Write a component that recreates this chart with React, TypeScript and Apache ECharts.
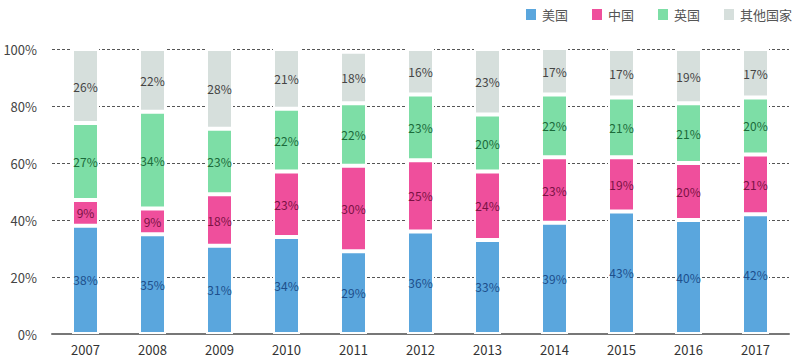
import React, { useEffect, useRef } from "react";
import * as echarts from "echarts";

const years = ["2007", "2008", "2009", "2010", "2011", "2012", "2013", "2014", "2015", "2016", "2017"];
const seriesNames = ["美国", "中国", "英国", "其他国家"];
const usa = [38, 35, 31, 34, 29, 36, 33, 39, 43, 40, 42];
const china = [9, 9, 18, 23, 30, 25, 24, 23, 19, 20, 21];
const uk = [27, 34, 23, 22, 22, 23, 20, 22, 21, 21, 20];
const others = [26, 22, 28, 21, 18, 16, 23, 17, 17, 19, 17];
const yTicks = ["0%", "20%", "40%", "60%", "80%", "100%"];

const colors = ["#5aa6dd", "#ef4f9c", "#7ddea6", "#d6dfdc"];
const labelColors = ["#1d4f8c", "#7a1244", "#1b6a3a", "#444444"];

export default function App() {
  const ref = useRef<HTMLDivElement>(null);
  useEffect(() => {
    document.body.style.margin = "0";
    if (!ref.current) return;
    const chart = echarts.init(ref.current, undefined, { renderer: "svg" });
    const datasets = [usa, china, uk, others];
    chart.setOption({
      animation: false,
      textStyle: { fontFamily: "'Noto Sans CJK SC', 'DejaVu Sans', sans-serif" },
      legend: {
        top: 2,
        right: 3,
        itemWidth: 12,
        itemHeight: 13,
        itemGap: 22,
        icon: "rect",
        textStyle: { color: "#555", fontSize: 13 },
        data: seriesNames,
      },
      grid: { left: 52, right: 11, top: 49, bottom: 26 },
      xAxis: {
        type: "category",
        data: years,
        axisLine: { lineStyle: { color: "#777", width: 2 } },
        axisTick: { show: false },
        axisLabel: { color: "#333", fontSize: 13, margin: 9 },
      },
      yAxis: {
        type: "value",
        min: 0,
        max: 100,
        interval: 20,
        axisLine: { show: false },
        axisTick: { show: false },
        axisLabel: {
          color: "#444",
          fontSize: 13,
          margin: 15,
          formatter: (v: number) => yTicks[Math.round(v / 20)],
        },
        splitLine: { lineStyle: { color: "#555", type: [3, 2], width: 1 } },
      },
      series: datasets.map((d, i) => ({
        name: seriesNames[i],
        type: "bar",
        stack: "total",
        barWidth: 27,
        data: d,
        itemStyle: { color: colors[i], borderColor: "#fff", borderWidth: 2 },
        label: {
          show: true,
          position: "inside",
          color: labelColors[i],
          fontSize: 12,
          formatter: "{c}%",
        },
      })),
    });
    return () => chart.dispose();
  }, []);
  return <div ref={ref} style={{ width: 800, height: 360 }} />;
}
